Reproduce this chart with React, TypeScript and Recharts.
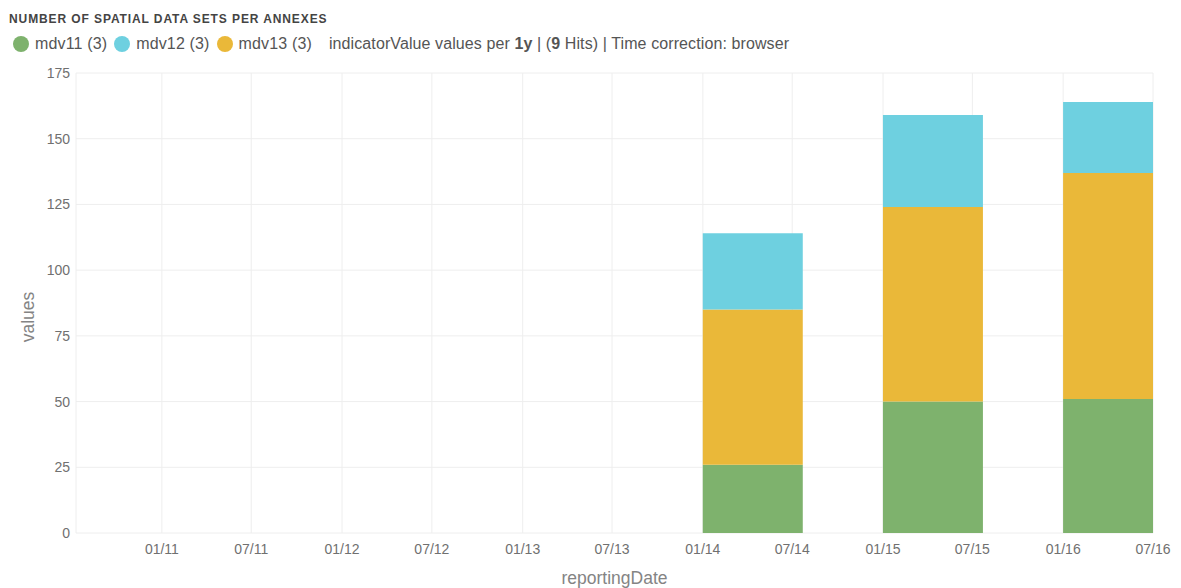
import React from 'react';
import { BarChart, Bar, XAxis, YAxis, CartesianGrid, Rectangle } from 'recharts';

const bucketDates = ['2014-01-01', '2015-01-01', '2016-01-01'];
const mdv11 = [26, 50, 51];
const mdv13 = [59, 74, 86];
const mdv12 = [29, 35, 27];

const tickDates = [
  '2011-01-01', '2011-07-01', '2012-01-01', '2012-07-01', '2013-01-01', '2013-07-01',
  '2014-01-01', '2014-07-01', '2015-01-01', '2015-07-01', '2016-01-01', '2016-07-01',
];
const yTicks = [0, 25, 50, 75, 100, 125, 150, 175];
const domainStart = '2010-07-11';
const domainEnd = '2016-07-01';

const legendItems = [
  { name: 'mdv11 (3)', color: '#7EB26D' },
  { name: 'mdv12 (3)', color: '#6ED0E0' },
  { name: 'mdv13 (3)', color: '#EAB839' },
];

const ts = (d: string) => Date.parse(d + 'T00:00:00Z');

const data = bucketDates.map((d, i) => ({
  t: ts(d),
  mdv11: mdv11[i],
  mdv13: mdv13[i],
  mdv12: mdv12[i],
}));

const fmt = (v: number) => {
  const d = new Date(v);
  const m = String(d.getUTCMonth() + 1).padStart(2, '0');
  const y = String(d.getUTCFullYear() % 100).padStart(2, '0');
  return `${m}/${y}`;
};

const BucketShape = (props: any) => {
  const { x, y, width, height, fill } = props;
  return <Rectangle x={x + width / 2} y={y} width={width} height={height} fill={fill} />;
};

const FONT = '"Liberation Sans", Arial, Helvetica, sans-serif';

export default function App() {
  return (
    <div style={{ position: 'absolute', left: 0, top: 0, width: 1181, height: 588, background: '#fff', fontFamily: FONT }}>
      <div style={{ position: 'absolute', left: 9, top: 12, fontSize: 12, lineHeight: '14px', fontWeight: 700, color: '#444', letterSpacing: 0.9 }}>
        NUMBER OF SPATIAL DATA SETS PER ANNEXES
      </div>
      <div style={{ position: 'absolute', left: 13, top: 34, height: 20, fontSize: 16, color: '#555', display: 'flex', alignItems: 'center', whiteSpace: 'nowrap' }}>
        {legendItems.map((it) => (
          <span key={it.name} style={{ display: 'inline-flex', alignItems: 'center', marginRight: 7, letterSpacing: 0.15 }}>
            <span style={{ display: 'inline-block', width: 16, height: 16, borderRadius: 8, background: it.color, marginRight: 6 }} />
            {it.name}
          </span>
        ))}
        <span style={{ marginLeft: 10, letterSpacing: 0.1 }}>
          indicatorValue values per <b>1y</b> | (<b>9</b> Hits) | Time correction: browser
        </span>
      </div>
      <div style={{ position: 'absolute', left: 0, top: 0 }}>
        <BarChart width={1181} height={588} data={data} margin={{ top: 73, right: 28, bottom: 0, left: 16 }}>
          <CartesianGrid stroke="#eeeeee" />
          <XAxis
            dataKey="t"
            type="number"
            scale="linear"
            domain={[ts(domainStart), ts(domainEnd)]}
            ticks={tickDates.map(ts)}
            tickFormatter={fmt}
            allowDataOverflow
            axisLine={false}
            tickLine={false}
            height={55}
            tick={{ fill: '#707070', fontSize: 14, fontFamily: FONT }}
            tickMargin={5}
            label={{ value: 'reportingDate', position: 'insideBottom', offset: 4, fill: '#848484', fontSize: 17.5, fontFamily: FONT }}
          />
          <YAxis
            domain={[0, 175]}
            ticks={yTicks}
            axisLine={false}
            tickLine={false}
            width={60}
            tick={{ fill: '#707070', fontSize: 14, fontFamily: FONT }}
            tickMargin={0}
            label={{
              content: () => (
                <text x={34} y={317} transform="rotate(-90 34 317)" textAnchor="middle" fill="#848484" fontSize={17.5} fontFamily={FONT}>
                  values
                </text>
              ),
            }}
          />
          <Bar dataKey="mdv11" stackId="a" fill="#7EB26D" barSize={100} shape={<BucketShape />} isAnimationActive={false} />
          <Bar dataKey="mdv13" stackId="a" fill="#EAB839" barSize={100} shape={<BucketShape />} isAnimationActive={false} />
          <Bar dataKey="mdv12" stackId="a" fill="#6ED0E0" barSize={100} shape={<BucketShape />} isAnimationActive={false} />
        </BarChart>
      </div>
    </div>
  );
}
